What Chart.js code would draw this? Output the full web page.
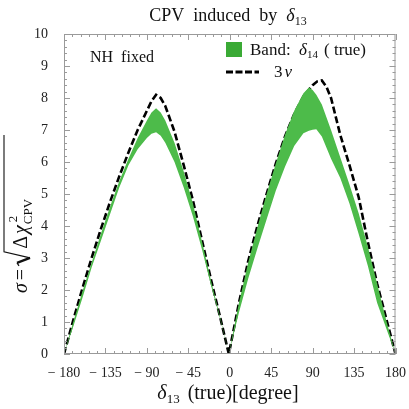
<!DOCTYPE html>
<html>
<head>
<meta charset="utf-8">
<script src="https://cdn.jsdelivr.net/npm/chart.js@4"></script>
<style>
  html, body { margin: 0; padding: 0; background: #fff; }
  #wrap { width: 409px; height: 409px; }
</style>
</head>
<body>
<div id="wrap"><canvas id="cpv" width="409" height="409"></canvas></div>
<script>
// delta13 (true) grid for the green band
const bandDelta = [-180, -170, -160, -150, -140, -130, -120, -110, -100, -90, -85, -80, -75, -70, -60, -50, -40, -30, -20, -10, -1,
  10, 20, 30, 40, 50, 60, 70, 80, 86, 90, 94, 100, 110, 120, 130, 140, 150, 160, 170, 180];
const bandLow = [0, 0.85, 1.75, 2.7, 3.53, 4.37, 5.2, 5.9, 6.4, 6.75, 6.88, 6.93, 6.82, 6.6, 6.0, 5.2, 4.3, 3.25, 2.1, 1.05, 0,
  1.3, 2.35, 3.3, 4.2, 5.1, 5.85, 6.5, 6.9, 6.98, 7.01, 7.02, 6.8, 6.1, 5.5, 4.7, 3.75, 2.75, 1.6, 0.8, 0];
const bandHigh = [0, 1.0, 1.95, 2.85, 3.75, 4.6, 5.4, 6.1, 6.75, 7.3, 7.55, 7.68, 7.55, 7.3, 6.6, 5.7, 4.7, 3.5, 2.25, 1.1, 0,
  1.6, 2.85, 3.95, 5.0, 5.95, 6.85, 7.6, 8.15, 8.33, 8.25, 8.1, 7.8, 7.0, 6.15, 5.3, 4.4, 3.35, 2.2, 1.05, 0];

// standard 3 flavour curve
const nuDelta = [-180, -170, -160, -150, -140, -130, -120, -110, -100, -90, -85, -80, -75, -70, -60, -50, -40, -30, -20, -10, -1,
  10, 20, 30, 40, 50, 60, 70, 80, 90, 95, 100, 105, 110, 120, 130, 140, 150, 160, 170, 180];
const nuSigma = [0, 1.05, 2.05, 3.0, 3.9, 4.75, 5.55, 6.3, 7.0, 7.6, 7.9, 8.1, 8.0, 7.75, 6.95, 5.9, 4.8, 3.53, 2.28, 1.1, 0,
  1.6, 2.9, 4.0, 5.0, 5.95, 6.8, 7.5, 8.05, 8.4, 8.52, 8.55, 8.35, 8.0, 6.85, 5.9, 4.9, 3.5, 2.2, 1.1, 0];

const xTicks = [-180, -135, -90, -45, 0, 45, 90, 135, 180];
const yTicks = [0, 1, 2, 3, 4, 5, 6, 7, 8, 9, 10];

const SERIF = '"Liberation Serif", "DejaVu Serif", serif';
const GREEN = 'rgb(77, 187, 74)';
const FRAME = '#9a9a9a';

function pts(xs, ys) {
  return xs.map((x, i) => ({ x: x, y: ys[i] }));
}

// draws a run of text pieces (used for subscripts / italic greek)
function drawRuns(ctx, runs, x, y, align) {
  let total = 0;
  runs.forEach(r => { ctx.font = r.font; total += ctx.measureText(r.t).width + (r.gap || 0); });
  let cx = align === 'center' ? x - total / 2 : x;
  runs.forEach(r => {
    ctx.font = r.font;
    ctx.fillText(r.t, cx, y + (r.dy || 0));
    cx += ctx.measureText(r.t).width + (r.gap || 0);
  });
  return cx;
}

const framePlugin = {
  id: 'frame',
  afterDatasetsDraw(chart) {
    const { ctx, chartArea: a, scales } = chart;
    ctx.save();
    ctx.strokeStyle = FRAME;
    ctx.lineWidth = 1;
    ctx.strokeRect(a.left + 0.5, a.top + 0.5, a.right - a.left - 1, a.bottom - a.top - 1);
    ctx.beginPath();
    for (let v = -180; v <= 180; v += 9) {
      const px = Math.round(scales.x.getPixelForValue(v)) + 0.5;
      const len = v % 45 === 0 ? 6 : 3;
      ctx.moveTo(px, a.bottom); ctx.lineTo(px, a.bottom - len);
      ctx.moveTo(px, a.top); ctx.lineTo(px, a.top + len);
    }
    for (let i = 0; i <= 50; i++) {
      const v = i / 5;
      const py = Math.round(scales.y.getPixelForValue(v)) + 0.5;
      const len = i % 5 === 0 ? 6 : 3;
      ctx.moveTo(a.left, py); ctx.lineTo(a.left + len, py);
      ctx.moveTo(a.right, py); ctx.lineTo(a.right - len, py);
    }
    ctx.stroke();
    ctx.restore();
  },
  afterDraw(chart) {
    const { ctx } = chart;
    ctx.save();
    ctx.fillStyle = '#111';
    ctx.textBaseline = 'alphabetic';

    // title
    drawRuns(ctx, [
      { t: 'CPV  induced  by  ', font: '18px ' + SERIF },
      { t: 'δ', font: 'italic 18px ' + SERIF },
      { t: '13', font: '12px ' + SERIF, dy: 4 }
    ], 228, 21, 'center');

    // x axis title
    drawRuns(ctx, [
      { t: 'δ', font: 'italic 20px ' + SERIF },
      { t: '13', font: '13px ' + SERIF, dy: 4, gap: 8 },
      { t: '(true)[degree]', font: '20px ' + SERIF }
    ], 228, 399, 'center');

    // y axis title, rotated
    ctx.save();
    ctx.translate(27, 293);
    ctx.rotate(-Math.PI / 2);
    let cx = drawRuns(ctx, [
      { t: 'σ', font: 'italic 20px ' + SERIF, gap: 3 },
      { t: '=', font: '20px ' + SERIF, gap: 3 }
    ], 0, 0, 'left');
    ctx.strokeStyle = '#111';
    ctx.lineWidth = 1.2;
    ctx.beginPath();
    ctx.moveTo(cx, -8);
    ctx.lineTo(cx + 3, -10);
    ctx.stroke();
    ctx.beginPath();
    ctx.lineWidth = 2.4;
    ctx.moveTo(cx + 3, -10);
    ctx.lineTo(cx + 8, 3);
    ctx.stroke();
    ctx.beginPath();
    ctx.lineWidth = 1.1;
    ctx.moveTo(cx + 8, 3);
    ctx.lineTo(cx + 14, -23);
    ctx.lineTo(158, -23);
    ctx.stroke();
    let ex = drawRuns(ctx, [
      { t: 'Δ', font: '20px ' + SERIF, gap: 2 },
      { t: 'χ', font: 'italic 20px ' + SERIF, gap: 1 },
    ], cx + 17, 0, 'left');
    ctx.font = '13px ' + SERIF;
    ctx.fillText('2', ex + 2, -10);
    ctx.fillText('CPV', ex, 5);
    ctx.restore();

    // label inside the plot
    ctx.font = '16px ' + SERIF;
    ctx.fillText('NH  fixed', 90, 62);

    // legend
    ctx.fillStyle = '#3aaa35';
    ctx.fillRect(226, 42, 16, 15);
    ctx.fillStyle = '#111';
    drawRuns(ctx, [
      { t: 'Band:  ', font: '17px ' + SERIF },
      { t: 'δ', font: 'italic 17px ' + SERIF },
      { t: '14', font: '11px ' + SERIF, dy: 3, gap: 6 },
      { t: '( true)', font: '17px ' + SERIF }
    ], 250, 55, 'left');
    ctx.strokeStyle = '#000';
    ctx.lineWidth = 3;
    ctx.setLineDash([7, 2.5]);
    ctx.beginPath();
    ctx.moveTo(226, 72);
    ctx.lineTo(259, 72);
    ctx.stroke();
    ctx.setLineDash([]);
    drawRuns(ctx, [
      { t: '3', font: '17px ' + SERIF, gap: 2 },
      { t: 'ν', font: 'italic 17px ' + SERIF }
    ], 274, 77, 'left');
    ctx.restore();
  }
};

new Chart(document.getElementById('cpv'), {
  type: 'line',
  data: {
    datasets: [
      {
        label: 'band low',
        data: pts(bandDelta, bandLow),
        borderWidth: 0,
        pointRadius: 0,
        fill: false,
        tension: 0
      },
      {
        label: 'Band: δ14 (true)',
        data: pts(bandDelta, bandHigh),
        borderWidth: 0,
        borderColor: GREEN,
        backgroundColor: GREEN,
        pointRadius: 0,
        fill: '-1',
        tension: 0
      },
      {
        label: '3ν',
        data: pts(nuDelta, nuSigma),
        borderColor: '#000',
        borderWidth: 2.6,
        borderDash: [7, 3],
        pointRadius: 0,
        fill: false,
        tension: 0
      }
    ]
  },
  options: {
    responsive: false,
    animation: false,
    layout: { padding: { top: 34, right: 13, left: 0, bottom: 0 } },
    plugins: {
      legend: { display: false },
      tooltip: { enabled: false },
      title: { display: false }
    },
    scales: {
      x: {
        type: 'linear',
        min: -180,
        max: 180,
        afterFit: s => { s.height = 55; },
        afterBuildTicks: s => { s.ticks = xTicks.map(v => ({ value: v })); },
        grid: { display: false },
        border: { display: false },
        ticks: {
          padding: 3,
          maxRotation: 0,
          autoSkip: false,
          color: '#222',
          font: { family: SERIF, size: 14 },
          callback: v => (v < 0 ? '− ' + Math.abs(v) : String(v))
        }
      },
      y: {
        min: 0,
        max: 10,
        afterFit: s => { s.width = 64; },
        afterBuildTicks: s => { s.ticks = yTicks.map(v => ({ value: v })); },
        grid: { display: false },
        border: { display: false },
        ticks: {
          padding: 8,
          color: '#222',
          font: { family: SERIF, size: 14 }
        }
      }
    }
  },
  plugins: [framePlugin]
});
</script>
</body>
</html>
